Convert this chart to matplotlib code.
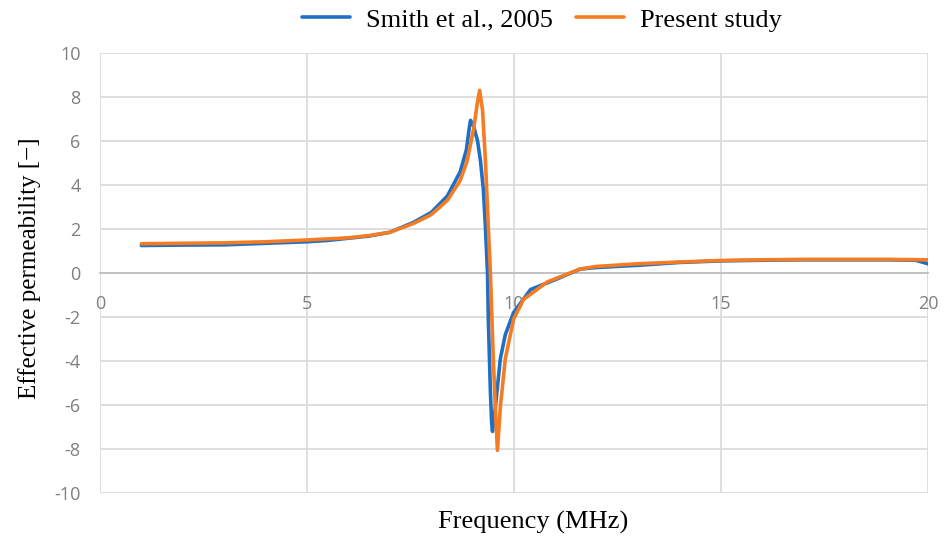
import matplotlib
matplotlib.use("Agg")
import matplotlib.pyplot as plt

plt.rcParams["axes.unicode_minus"] = False

# Smith et al., 2005
smith_x = [1.0, 2.0, 3.0, 4.0, 5.0, 5.5, 6.0, 6.5, 7.0, 7.57, 8.0, 8.39, 8.7, 8.85, 8.92, 8.95,
           9.02, 9.12, 9.19, 9.26, 9.31, 9.36, 9.38, 9.43, 9.46, 9.48, 9.55, 9.67, 9.79, 9.99,
           10.4, 11.0, 11.6, 12.0, 13.0, 14.0, 15.0, 16.0, 17.0, 18.0, 19.0, 19.7, 20.0]
smith_y = [1.25, 1.27, 1.28, 1.35, 1.42, 1.48, 1.58, 1.68, 1.85, 2.3, 2.75, 3.5, 4.6, 5.6, 6.6, 6.94,
           6.7, 6.0, 5.1, 3.8, 2.1, 0.0, -2.1, -5.4, -6.8, -7.2, -6.1, -3.9, -2.8, -1.8,
           -0.75, -0.3, 0.18, 0.25, 0.35, 0.48, 0.55, 0.58, 0.6, 0.6, 0.6, 0.58, 0.42]

# Present study
present_x = [1.0, 2.0, 3.0, 4.0, 5.0, 5.5, 6.0, 6.5, 7.0, 7.57, 8.0, 8.39, 8.7, 8.87, 9.03, 9.12,
             9.17, 9.24, 9.31, 9.38, 9.43, 9.5, 9.56, 9.6, 9.67, 9.79, 9.99, 10.23, 10.81,
             11.6, 12.0, 13.0, 14.0, 15.0, 16.0, 17.0, 18.0, 19.0, 20.0]
present_y = [1.33, 1.35, 1.37, 1.42, 1.5, 1.55, 1.6, 1.7, 1.85, 2.25, 2.65, 3.3, 4.2, 5.1, 6.6, 7.8,
             8.3, 7.4, 5.1, 2.1, 0.0, -3.9, -6.6, -8.06, -6.1, -3.9, -2.1, -1.2, -0.4,
             0.18, 0.3, 0.42, 0.5, 0.57, 0.6, 0.62, 0.62, 0.62, 0.6]

x_ticks = [0, 5, 10, 15, 20]
y_ticks = [-10, -8, -6, -4, -2, 0, 2, 4, 6, 8, 10]

fig = plt.figure(figsize=(9.46, 5.43), dpi=100)
ax = fig.add_axes([100 / 946, 1 - 493 / 543, (928 - 100) / 946, (493 - 53) / 543])

blue = "#1f6fc4"
orange = "#f57c22"
ax.plot(smith_x, smith_y, color=blue, lw=2.6, label="Smith et al., 2005", solid_capstyle="round",
        solid_joinstyle="round", zorder=3)
ax.plot(present_x, present_y, color=orange, lw=2.6, label="Present study", solid_capstyle="round",
        solid_joinstyle="round", zorder=4)

ax.set_xlim(0, 20)
ax.set_ylim(-10, 10)
ax.set_xticks(x_ticks)
ax.set_yticks(y_ticks)
ax.grid(True, color="#d9d9d9", lw=1.2, zorder=0)
ax.set_axisbelow(True)

for s in ["top", "right", "left"]:
    ax.spines[s].set_visible(False)
ax.spines["bottom"].set_position(("data", 0))
ax.spines["bottom"].set_color("#bfbfbf")
ax.spines["bottom"].set_linewidth(1.3)
ax.spines["bottom"].set_zorder(1)

ax.tick_params(axis="both", length=0, labelsize=13, labelcolor="#7f7f7f")
ax.tick_params(axis="y", pad=14)
ax.tick_params(axis="x", pad=16)
for lab in ax.get_xticklabels() + ax.get_yticklabels():
    lab.set_family("Open Sans")

fig.text(30 / 946, 1 - 268 / 543, "Effective permeability [\u2212]", rotation=90,
         ha="center", va="center", fontsize=18, family="Liberation Serif")
fig.text(533 / 946, 1 - 522 / 543, "Frequency (MHz)", ha="center", va="center",
         fontsize=19, family="Liberation Serif")

leg = fig.legend(loc="center", bbox_to_anchor=(542 / 946, 1 - 20 / 543), ncol=2, frameon=False,
                 prop=dict(family="Liberation Serif", size=19), handlelength=1.8,
                 columnspacing=0.9, handletextpad=0.6)

fig.savefig("out.png", dpi=100)
